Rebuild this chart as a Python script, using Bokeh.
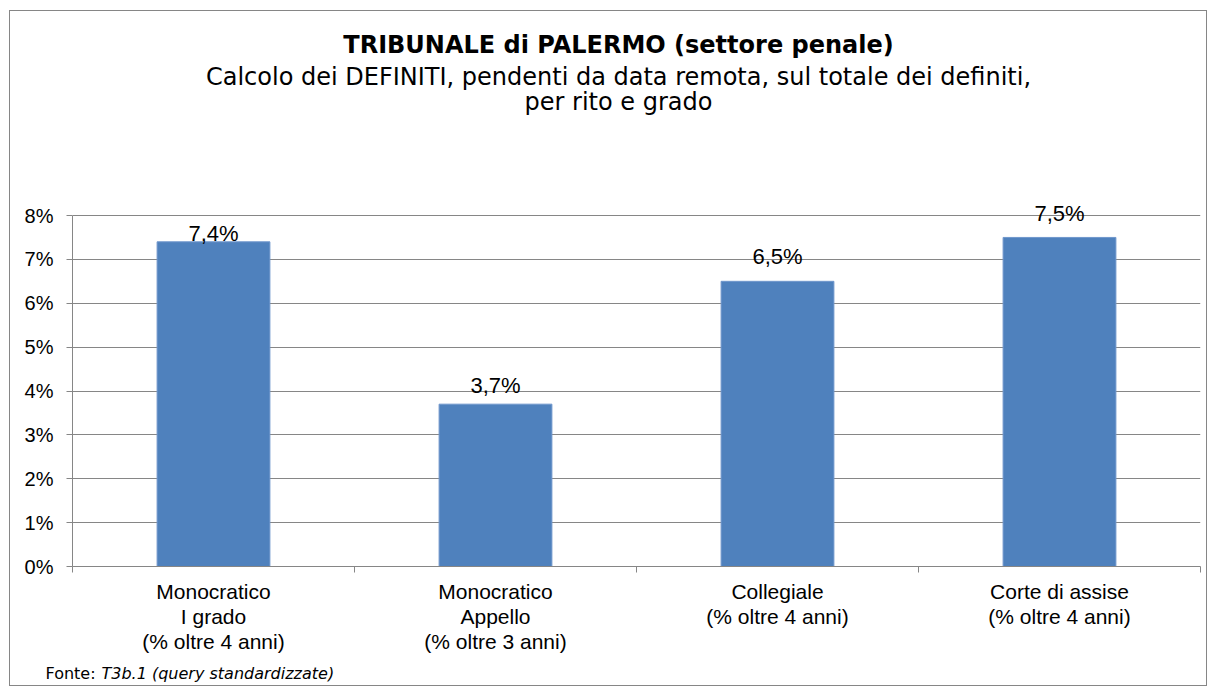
from bokeh.plotting import figure
from bokeh.layouts import column, row
from bokeh.models import Range1d, FixedTicker, PrintfTickFormatter, ColumnDataSource
from bokeh.embed import file_html
from bokeh.resources import INLINE
from bokeh.core.properties import value

# ---- data ----
categories = ["Monocratico\nI grado\n(% oltre 4 anni)",
              "Monocratico\nAppello\n(% oltre 3 anni)",
              "Collegiale\n(% oltre 4 anni)",
              "Corte di assise\n(% oltre 4 anni)"]
values = [7.4, 3.7, 6.5, 7.5]
y_ticks = [0, 1, 2, 3, 4, 5, 6, 7, 8]

title_main = "TRIBUNALE di PALERMO (settore penale)"
title_sub1 = "Calcolo dei DEFINITI, pendenti da data remota, sul totale dei definiti,"
title_sub2 = "per rito e grado"
source_lbl = "Fonte:"
source_txt = "T3b.1 (query standardizzate)"

# label gap above each bar (px) -- layout only
label_gap = [8, 19, 25, 24]

GRAY = "#868686"
BAR = "#4F81BD"
W = 1196
OX, OY = 10, 11            # page position of the content box
H1, H2, H3 = 170, 483, 21  # header, chart, footer heights
FR_L, FR_R, FR_T, FR_B = 72, 1200, 190, 566
Y_MAX = 8
PX_PER_UNIT = (FR_B - 215) / Y_MAX
y_top = Y_MAX + (215 - FR_T) / PX_PER_UNIT


def blank(h, x0, x1, y0):
    f = figure(width=W, height=h, output_backend="svg", toolbar_location=None,
               x_range=Range1d(x0, x1), y_range=Range1d(y0 + h, y0),
               x_axis_type=None, y_axis_type=None, min_border=0)
    f.outline_line_color = None
    f.grid.visible = False
    return f


# ---- header (frame aligned with chart frame) ----
header = blank(H1, FR_L, FR_R, OY)
header.text(x=[618], y=[44], text=[title_main], text_align="center", text_baseline="middle",
            text_font=value("DejaVu Sans"), text_font_style="bold", text_font_size="24px",
            text_color="black")
header.text(x=[618, 618], y=[76, 101], text=[title_sub1, title_sub2], text_align="center",
            text_baseline="middle", text_font=value("DejaVu Sans"), text_font_size="24px",
            text_color="black")

# ---- chart ----
xs = [i + 0.5 for i in range(len(categories))]
labels = [f"{v:.1f}".replace(".", ",") + "%" for v in values]
src = ColumnDataSource(dict(x=xs, top=values, lab=labels, off=[-g for g in label_gap]))

p = figure(width=W, height=H2, output_backend="svg", toolbar_location=None,
           x_range=Range1d(0, len(categories)), y_range=Range1d(0, y_top),
           min_border_left=FR_L - OX, min_border_right=W - (FR_R - OX),
           min_border_top=FR_T - (OY + H1), min_border_bottom=(OY + H1 + H2) - FR_B)
p.outline_line_color = None

p.vbar(x="x", top="top", width=0.4, bottom=0, source=src,
       fill_color=BAR, line_color="#6f96cc", line_width=1)

p.text(x="x", y="top", text="lab", source=src, text_align="center",
       text_baseline="alphabetic", y_offset="off", text_font=value("Liberation Sans"),
       text_font_size="22px", text_color="black")

p.yaxis.ticker = FixedTicker(ticks=y_ticks)
p.yaxis.bounds = (0, Y_MAX)
p.yaxis.formatter = PrintfTickFormatter(format="%d%%")
p.yaxis.axis_line_color = GRAY
p.yaxis.major_tick_line_color = GRAY
p.yaxis.major_tick_out = 6
p.yaxis.major_tick_in = 0
p.yaxis.minor_tick_line_color = None
p.yaxis.major_label_standoff = 13
p.yaxis.major_label_text_font = "Liberation Sans"
p.yaxis.major_label_text_font_size = "20px"
p.yaxis.major_label_text_color = "black"

p.xaxis.ticker = FixedTicker(ticks=xs, minor_ticks=list(range(len(categories) + 1)))
p.xaxis.major_label_overrides = {x: c for x, c in zip(xs, categories)}
p.xaxis.axis_line_color = GRAY
p.xaxis.major_tick_line_color = None
p.xaxis.major_tick_out = 0
p.xaxis.major_tick_in = 0
p.xaxis.minor_tick_line_color = GRAY
p.xaxis.minor_tick_out = 6
p.xaxis.minor_tick_in = 0
p.xaxis.major_label_standoff = 7
p.xaxis.major_label_text_font = "Liberation Sans"
p.xaxis.major_label_text_font_size = "21px"
p.xaxis.major_label_text_line_height = 1.1
p.xaxis.major_label_text_color = "black"

p.xgrid.grid_line_color = None
p.ygrid.ticker = FixedTicker(ticks=y_ticks)
p.ygrid.grid_line_color = GRAY
p.ygrid.grid_line_width = 1

# ---- footer ----
footer = blank(H3, OX, OX + W, OY + H1 + H2)
footer.text(x=[45], y=[673], text=[source_lbl], text_align="left", text_baseline="middle",
            text_font=value("DejaVu Sans"), text_font_size="16px", text_color="black")
footer.text(x=[101], y=[673], text=[source_txt], text_align="left", text_baseline="middle",
            text_font=value("DejaVu Sans"), text_font_style="italic", text_font_size="16px",
            text_color="black")

layout = column(header, p, row(footer), spacing=0,
                styles={"border": f"1px solid {GRAY}", "margin": "10px 0 0 9px"})

open("out.html", "w").write(file_html(layout, INLINE))
